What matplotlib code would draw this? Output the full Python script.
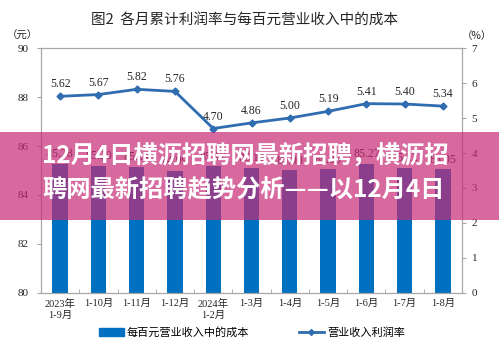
import numpy as np
import matplotlib
matplotlib.use("Agg")
import matplotlib.pyplot as plt
from matplotlib.patches import Rectangle
from matplotlib.lines import Line2D

plt.rcParams['font.family'] = ['Liberation Serif', 'Noto Sans CJK SC']

# Data
categories = ["2023年\n1-9月", "1-10月", "1-11月", "1-12月", "2024年\n1-2月", "1-3月",
              "1-4月", "1-5月", "1-6月", "1-7月", "1-8月"]
cost = [85.28, 85.20, 85.14, 84.99, 85.17, 85.10, 85.00, 85.05, 85.27, 85.12, 85.05]
profit_rate = [5.62, 5.67, 5.82, 5.76, 4.70, 4.86, 5.00, 5.19, 5.41, 5.40, 5.34]

bar_color = "#0070C0"
line_color = "#2F6CB0"
spine_color = "#A6A6A6"
text_color = "#262626"
cjk = ['Noto Sans CJK SC', 'DejaVu Sans']
serif_cjk = ['Liberation Serif', 'Noto Sans CJK SC']

fig = plt.figure(figsize=(4.99, 3.53), dpi=100)
ax = fig.add_axes([0.0822, 0.170, 0.8437, 0.694])
x = np.arange(len(categories))

ax.bar(x, cost, width=0.4, color=bar_color, zorder=2)
ax.set_ylim(80, 90)
ax.set_yticks(np.arange(80, 91, 2))
ax.set_xlim(-0.5, len(categories) - 0.5)
ax.set_xticks(x)
ax.set_xticklabels(categories, family=serif_cjk, fontsize=7.5, color=text_color, linespacing=1.3)
ax.set_xticks(np.arange(-0.5, len(categories), 1), minor=True)
ax.tick_params(axis='x', which='major', length=0, pad=4)
ax.tick_params(axis='x', which='minor', length=3, color=spine_color, direction='in')
ax.tick_params(axis='y', length=3, color=spine_color, labelsize=8, labelcolor=text_color, direction='out', pad=6)
for s in ax.spines.values():
    s.set_color(spine_color)
    s.set_linewidth(0.8)
for xi, v in zip(x, cost):
    ax.text(xi, v + 0.15, f"{v:.2f}", ha='center', va='bottom', fontsize=8.5, color=text_color, zorder=3)

ax2 = ax.twinx()
ax2.plot(x, profit_rate, color=line_color, linewidth=2, marker='D', markersize=3.5, zorder=4)
ax2.set_ylim(0, 7)
ax2.set_yticks(np.arange(0, 8, 1))
ax2.tick_params(axis='y', length=3, color=spine_color, labelsize=8, labelcolor=text_color, pad=4)
for s in ax2.spines.values():
    s.set_color(spine_color)
    s.set_linewidth(0.8)
for xi, v in zip(x, profit_rate):
    ax2.text(xi, v + 0.17, f"{v:.2f}", ha='center', va='bottom', fontsize=8.5, color=text_color)

# Title and units
fig.text(0.49, 0.943, "图2  各月累计利润率与每百元营业收入中的成本", ha='center', va='center',
         family=cjk, fontsize=10.5, color=text_color)
fig.text(0.045, 0.898, "（元）", ha='center', va='center', family=cjk, fontsize=7.5, color=text_color)
fig.text(0.955, 0.898, "（%）", ha='center', va='center', family=cjk, fontsize=7.5, color=text_color)

# Legend
handles = [Rectangle((0, 0), 1, 1, color=bar_color),
           Line2D([], [], color=line_color, linewidth=2, marker='D', markersize=3)]
fig.legend(handles, ["每百元营业收入中的成本", "营业收入利润率"], loc='center',
           bbox_to_anchor=(0.505, 0.058), ncol=2, frameon=False, handlelength=2.2,
           handleheight=0.6, columnspacing=4.5, handletextpad=0.3,
           prop={'family': cjk, 'size': 8})

# Overlay banner
fig.patches.append(Rectangle((0, 1 - 220/353), 1, 88/353, transform=fig.transFigure,
                             facecolor=(199/255, 42/255, 119/255), alpha=0.7, zorder=10))
fig.text(0.084, 1 - 157/353, "12月4日横沥招聘网最新招聘，横沥招", ha='left', va='center',
         family=cjk, fontsize=17.5, fontweight='bold', color='white', zorder=11)
fig.text(0.084, 1 - 190/353, "聘网最新招聘趋势分析——以12月4日", ha='left', va='center',
         family=cjk, fontsize=17.5, fontweight='bold', color='white', zorder=11)

fig.savefig("out.png", dpi=100)
